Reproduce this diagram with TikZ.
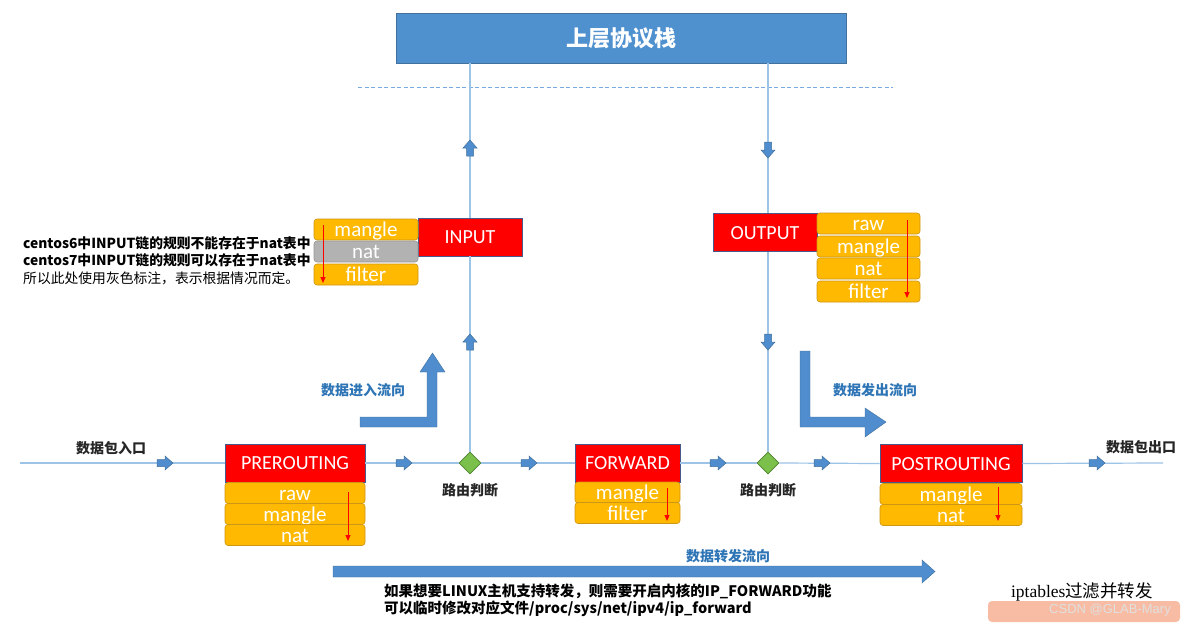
\documentclass[tikz,border=0pt]{standalone}
\usepackage{fontspec}
\setmainfont{Noto Sans CJK SC}
\newfontfamily\latinf{Carlito}
\newfontfamily\serifw{Liberation Serif}
\newfontfamily\arialw{Liberation Sans}
\usetikzlibrary{shapes.geometric,arrows.meta}
\definecolor{bluefill}{RGB}{79,144,207}
\definecolor{bluebd}{RGB}{65,113,156}
\definecolor{redbd}{RGB}{70,90,140}
\definecolor{orfill}{RGB}{255,185,0}
\definecolor{orbd}{RGB}{205,150,20}
\definecolor{grayfill}{RGB}{178,178,178}
\definecolor{graybd}{RGB}{150,150,150}
\definecolor{linec}{RGB}{157,195,230}
\definecolor{dashc}{RGB}{120,170,225}
\definecolor{arrfill}{RGB}{79,141,206}
\definecolor{grfill}{RGB}{122,192,74}
\definecolor{grbd}{RGB}{80,130,50}
\definecolor{txtblue}{RGB}{46,117,182}
\definecolor{wmbg}{RGB}{244,160,125}
\begin{document}
\begin{tikzpicture}[x=1pt,y=-1pt,
  topbox/.style={draw=bluebd, fill=bluefill, text=white, inner sep=0,
    font=\fontsize{22}{22}\selectfont\bfseries},
  chainbox/.style={draw=redbd, fill=red, text=white, inner sep=0, line width=0.6pt,
    minimum height=38pt, text height=14pt, text depth=1pt,
    font=\latinf\fontsize{20}{20}\selectfont},
  tbl/.style={draw=orbd, fill=orfill, rounded corners=3pt, text=white, inner sep=0,
    line width=0.6pt, minimum height=21pt, text height=16pt, text depth=1.2pt,
    font=\latinf\fontsize{21}{21}\selectfont},
  tblgray/.style={tbl, draw=graybd, fill=grayfill},
  flowline/.style={draw=linec, line width=1.2pt},
  dashline/.style={draw=dashc, line width=1pt, dash pattern=on 4pt off 2.5pt},
  lbl/.style={inner sep=0, font=\fontsize{14}{14}\selectfont\bfseries, text=black!85},
  bluelbl/.style={inner sep=0, font=\fontsize{14}{14}\selectfont\bfseries, text=txtblue},
  redarr/.style={draw=red, line width=1pt, -{Triangle[length=6pt,width=5pt]}},
  bigarr/.style={fill=arrfill, draw=bluebd, line width=0.4pt},
  sarr/.pic={\draw[draw=bluebd, fill=arrfill, line width=0.5pt]
     (-8,-3.5) -- (0,-3.5) -- (0,-7) -- (8,0) -- (0,7) -- (0,3.5) -- (-8,3.5) -- cycle;},
  dia/.style={diamond, draw=grbd, fill=grfill, aspect=1, inner sep=0,
    minimum width=22pt, minimum height=22pt, line width=0.6pt}
]
\useasboundingbox (0,0) rectangle (1190,626);
\fill[white] (0,0) rectangle (1190,626);

% top stack
\node[topbox, minimum width=450pt, minimum height=50pt] (stack) at (621,38) {上层协议栈};
\coordinate (dashL) at (358,87);
\coordinate (dashR) at (893,87);
\draw[dashline] (dashL) -- (dashR);

% chain boxes
\node[chainbox, minimum width=104pt] (input) at (470,237) {INPUT};
\node[chainbox, minimum width=104pt] (output) at (765,232.5) {OUTPUT};
\node[chainbox, minimum width=140pt] (pre) at (295,463) {PREROUTING};
\node[chainbox, minimum width=105pt] (fwd) at (627.5,463) {FORWARD};
\node[chainbox, minimum width=142pt] (post) at (951,463.5) {POSTROUTING};

% diamonds
\node[dia] (d1) at (470,463) {};
\node[dia] (d2) at (768,463) {};

% entry / exit points
\coordinate (in) at (20,463);
\coordinate (out) at (1163,463);

% lines
\draw[flowline] (stack.south -| input) -- (input.north);
\draw[flowline] (input.south) -- (d1.north);
\draw[flowline] (stack.south -| d2) -- (output.north -| d2);
\draw[flowline] (output.south -| d2) -- (d2.north);
\draw[flowline] (in) -- (pre.west);
\draw[flowline] (pre.east) -- (d1.west);
\draw[flowline] (d1.east) -- (fwd.west);
\draw[flowline] (fwd.east) -- (d2.west);
\draw[flowline] (d2.east) -- (post.west);
\draw[flowline] (post.east) -- (out);

% INPUT tables
\node[tbl, minimum width=104pt] (inM) at (366,229.5) {mangle};
\node[tblgray, minimum width=104pt] (inN) at (366,251.5) {nat};
\node[tbl, minimum width=104pt] (inF) at (366,274.5) {filter};
\draw[redarr] (323,225) -- (323,283);

% OUTPUT tables
\node[tbl, minimum width=103pt] (outR) at (868.5,223.5) {raw};
\node[tbl, minimum width=103pt] (outM) at (868.5,246.5) {mangle};
\node[tbl, minimum width=103pt] (outN) at (868.5,268.5) {nat};
\node[tbl, minimum width=103pt] (outF) at (868.5,291.5) {filter};
\draw[redarr] (907,220) -- (907,298);

% PREROUTING tables
\node[tbl, minimum width=140pt] (preR) at (295,493) {raw};
\node[tbl, minimum width=140pt] (preM) at (295,514) {mangle};
\node[tbl, minimum width=140pt] (preN) at (295,535) {nat};
\draw[redarr] (348,492) -- (348,541);

% FORWARD tables
\node[tbl, minimum width=105pt] (fwdM) at (627.5,492.5) {mangle};
\node[tbl, minimum width=105pt] (fwdF) at (627.5,513) {filter};
\draw[redarr] (667,488) -- (667,521);

% POSTROUTING tables
\node[tbl, minimum width=142pt] (postM) at (951,494) {mangle};
\node[tbl, minimum width=142pt] (postN) at (951,515) {nat};
\draw[redarr] (998,487) -- (998,521);

% small block arrows
\pic[rotate=90] at (470,148) {sarr};
\pic[rotate=90] at (470,342) {sarr};
\pic[rotate=-90] at (768,150) {sarr};
\pic[rotate=-90] at (768,342) {sarr};
\pic at (165,463) {sarr};
\pic at (404,463) {sarr};
\pic at (529,463) {sarr};
\pic at (718,463) {sarr};
\pic at (822,463) {sarr};
\pic at (1097,463) {sarr};

% big bent arrows
\draw[bigarr] (360,417) -- (427,417) -- (427,372) -- (420,372) -- (432.5,353)
  -- (445,372) -- (437,372) -- (437,427) -- (360,427) -- cycle;
\draw[bigarr] (800,351) -- (810,351) -- (810,417) -- (865,417) -- (865,408)
  -- (886,422) -- (865,437) -- (865,427) -- (800,427) -- cycle;
\draw[bigarr] (333,566) -- (922,566) -- (922,560) -- (935,571.5) -- (922,583)
  -- (922,577) -- (333,577) -- cycle;

% labels
\node[bluelbl] (inflow) at (363,390) {数据进入流向};
\node[bluelbl] (outflow) at (875,390) {数据发出流向};
\node[bluelbl] (fwdflow) at (728,556) {数据转发流向};
\node[lbl] (r1) at (470,490) {路由判断};
\node[lbl] (r2) at (768,490) {路由判断};
\node[lbl] (entry) at (111,448) {数据包入口};
\node[lbl] (exit) at (1141,447) {数据包出口};

\node[inner sep=0, anchor=west, align=left, text=black,
  font=\fontsize{13.8}{17.5}\selectfont] (note) at (23,260.5)
  {\textbf{centos6中INPUT链的规则不能存在于nat表中}\\
   \textbf{centos7中INPUT链的规则可以存在于nat表中}\\
   所以此处使用灰色标注，表示根据情况而定。};

\node[inner sep=0, anchor=west, align=left, text=black,
  font=\fontsize{14.5}{17}\selectfont\bfseries] (fwdnote) at (384,600.5)
  {如果想要LINUX主机支持转发，则需要开启内核的IP\_FORWARD功能\\
   可以临时修改对应文件/proc/sys/net/ipv4/ip\_forward};

\node[inner sep=0, text=black, font=\fontsize{17.5}{17.5}\selectfont] (cap) at (1082,592)
  {{\serifw iptables}过滤并转发};
\fill[wmbg, opacity=0.7, rounded corners=4pt] (988,601) rectangle (1180,622);
\node[inner sep=0, text=white!88!black, font=\arialw\fontsize{13}{13}\selectfont] (wm) at (1110,610)
  {CSDN @GLAB-Mary};
\end{tikzpicture}
\end{document}
